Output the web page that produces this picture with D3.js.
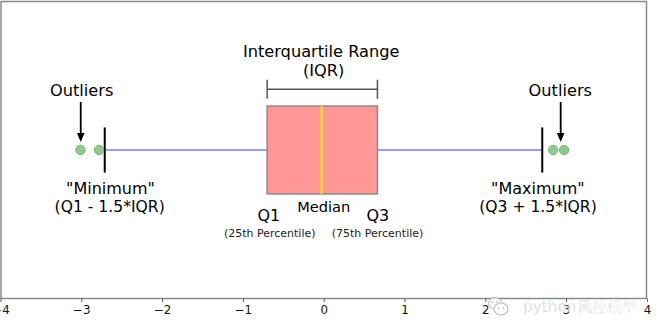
<!DOCTYPE html>
<html><head><meta charset="utf-8">
<script src="https://cdn.jsdelivr.net/npm/d3@7"></script>
<style>body{margin:0;background:#fff}svg{display:block}text{font-family:"DejaVu Sans",sans-serif}</style>
</head><body><svg id="c" width="661" height="335"></svg>
<script>
// ---- data ----
const tickValues = [-4, -3, -2, -1, 0, 1, 2, 3, 4];
const q1 = -0.70, median = -0.025, q3 = 0.665;
const whiskerLow = -2.71, whiskerHigh = 2.705;
const outliers = [-3.01, -2.78, 2.84, 2.975];
const labels = [
  {t: "Outliers", x: -2.995, y: 0.364, s: 16.2},
  {t: "Outliers", x: 2.928, y: 0.364, s: 16.2},
  {t: "Interquartile Range", x: -0.031, y: 0.624, s: 16.2},
  {t: "(IQR)", x: 0.0, y: 0.498, s: 16.2},
  {t: "\"Minimum\"", x: -2.639, y: -0.296, s: 16},
  {t: "(Q1 - 1.5*IQR)", x: -2.649, y: -0.418, s: 15.6},
  {t: "\"Maximum\"", x: 2.650, y: -0.296, s: 16},
  {t: "(Q3 + 1.5*IQR)", x: 2.652, y: -0.418, s: 15.6},
  {t: "Q1", x: -0.679, y: -0.478, s: 16},
  {t: "Median", x: 0.0, y: -0.415, s: 14.6},
  {t: "Q3", x: 0.670, y: -0.478, s: 16},
  {t: "(25th Percentile)", x: -0.668, y: -0.589, s: 11, c: "#222"},
  {t: "(75th Percentile)", x: 0.666, y: -0.589, s: 11, c: "#222"}
];
const arrows = [{x: -3.007, y0: 0.323, y1: 0.054}, {x: 2.933, y0: 0.323, y1: 0.054}];

// ---- layout ----
const svg = d3.select("#c");
const L = 1, R = 646.5, T = 1.5, B = 298.5;
const x = d3.scaleLinear().domain([-4, 4]).range([0.5, 646.9]);
const y = d3.scaleLinear().domain([-1, 1]).range([B, T]);
const boxHalf = 0.296, capHalf = 0.152;

// whisker line
svg.append("line").attr("x1", x(whiskerLow)).attr("x2", x(whiskerHigh))
  .attr("y1", y(0)).attr("y2", y(0)).attr("stroke", "#9a9aff").attr("stroke-width", 2);
// box
svg.append("rect").attr("x", x(q1)).attr("y", y(boxHalf))
  .attr("width", x(q3) - x(q1)).attr("height", y(-boxHalf) - y(boxHalf))
  .attr("fill", "#ff9797").attr("stroke", "#8a8a8a").attr("stroke-width", 1.5);
// median
svg.append("line").attr("x1", x(median)).attr("x2", x(median))
  .attr("y1", y(boxHalf)).attr("y2", y(-boxHalf)).attr("stroke", "#fff000").attr("stroke-width", 2);
// caps
[whiskerLow, whiskerHigh].forEach(v => {
  svg.append("line").attr("x1", x(v)).attr("x2", x(v))
    .attr("y1", y(capHalf)).attr("y2", y(-capHalf)).attr("stroke", "#000").attr("stroke-width", 2);
});
// outliers
svg.selectAll("circle.o").data(outliers).join("circle").attr("class", "o")
  .attr("cx", d => x(d)).attr("cy", y(0)).attr("r", 4.7)
  .attr("fill", "#8fc98f").attr("stroke", "#76b576").attr("stroke-width", 1);

// IQR bracket
const by = y(0.409);
const bg = svg.append("g").attr("stroke", "#555").attr("stroke-width", 1.5);
bg.append("line").attr("x1", x(q1)).attr("x2", x(q3)).attr("y1", by).attr("y2", by);
[q1, q3].forEach(v => bg.append("line").attr("x1", x(v)).attr("x2", x(v)).attr("y1", by - 9.5).attr("y2", by + 9.5));

// arrows
arrows.forEach(a => {
  const ax = x(a.x), ya = y(a.y0), yb = y(a.y1);
  svg.append("line").attr("x1", ax).attr("x2", ax).attr("y1", ya).attr("y2", yb - 7)
    .attr("stroke", "#000").attr("stroke-width", 1.8);
  svg.append("path").attr("d", `M${ax - 3.8},${yb - 9} L${ax + 3.8},${yb - 9} L${ax},${yb} Z`).attr("fill", "#000");
});

// labels
svg.selectAll("text.lab").data(labels).join("text").attr("class", "lab")
  .attr("x", d => x(d.x)).attr("y", d => y(d.y)).attr("text-anchor", "middle")
  .attr("font-size", d => d.s).attr("fill", d => d.c || "#000").text(d => d.t);

// frame
svg.append("rect").attr("x", L).attr("y", T).attr("width", R - L).attr("height", B - T)
  .attr("fill", "none").attr("stroke", "#8a8a8a").attr("stroke-width", 1.5);

// x axis
const ax = svg.append("g").attr("transform", `translate(0,${B})`)
  .call(d3.axisBottom(x).tickValues(tickValues).tickSize(3.5).tickSizeOuter(0).tickPadding(3.8));
ax.select(".domain").remove();
ax.selectAll(".tick line").attr("stroke", "#555").attr("stroke-width", 1);
ax.selectAll(".tick text").attr("font-size", 11.8).attr("fill", "#111").attr("font-family", "DejaVu Sans");

// watermark
const wm = svg.append("g").attr("opacity", 0.75);
wm.append("ellipse").attr("cx", 495).attr("cy", 303).attr("rx", 6.5).attr("ry", 5.5).attr("fill", "#fff").attr("stroke", "#aaa").attr("stroke-width", 1.2);
wm.append("ellipse").attr("cx", 501).attr("cy", 309).attr("rx", 7).attr("ry", 6).attr("fill", "#fff").attr("stroke", "#aaa").attr("stroke-width", 1.2);
[[492,302],[497,302],[498.5,308],[503.5,308]].forEach(p => wm.append("circle").attr("cx", p[0]).attr("cy", p[1]).attr("r", 0.9).attr("fill", "#aaa"));
wm.append("text").attr("x", 523).attr("y", 312).attr("font-size", 15)
  .attr("font-family", "'Noto Sans CJK SC', sans-serif").attr("fill", "#a8a8a8")
  .attr("stroke", "#fff").attr("stroke-width", 0.6).attr("textLength", 114).text("python风控模型");
</script></body></html>
